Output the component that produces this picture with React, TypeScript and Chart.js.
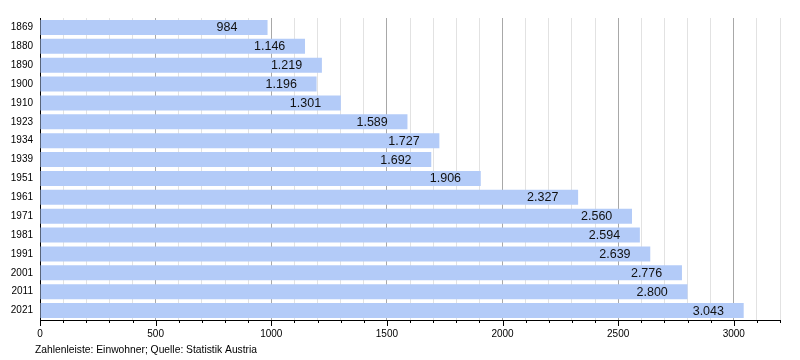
import React, { useEffect, useRef } from "react";
import { Chart, registerables } from "chart.js";

Chart.register(...registerables);

const years = ["1869", "1880", "1890", "1900", "1910", "1923", "1934", "1939", "1951", "1961", "1971", "1981", "1991", "2001", "2011", "2021"];
const population = [984, 1146, 1219, 1196, 1301, 1589, 1727, 1692, 1906, 2327, 2560, 2594, 2639, 2776, 2800, 3043];
const axisTickLabels = ["0", "500", "1000", "1500", "2000", "2500", "3000"];
const footerText = "Zahlenleiste: Einwohner; Quelle: Statistik Austria";

const FONT = "'Liberation Sans', Arial, Helvetica, sans-serif";

function fmt(v: number): string {
  if (v < 1000) return String(v);
  const th = Math.floor(v / 1000);
  const rest = String(v % 1000).padStart(3, "0");
  return th + "." + rest;
}

const overlayPlugin = {
  id: "overlay",
  afterDatasetsDraw(chart: any) {
    const ctx = chart.ctx;
    const meta = chart.getDatasetMeta(0);
    ctx.save();
    ctx.font = `12.5px ${FONT}`;
    ctx.fillStyle = "#111";
    ctx.textAlign = "left";
    ctx.textBaseline = "middle";
    meta.data.forEach((bar: any, i: number) => {
      ctx.fillText(fmt(population[i]), bar.x - 51, bar.y + 0.5);
    });
    // tick marks below x axis
    const xs = chart.scales.x;
    const y0 = chart.chartArea.bottom;
    ctx.strokeStyle = "#000";
    ctx.lineWidth = 1;
    for (let v = 0; v <= xs.max; v += 100) {
      const px = Math.round(xs.getPixelForValue(v)) + 0.5;
      const len = v % 500 === 0 ? 6 : 3;
      ctx.beginPath();
      ctx.moveTo(px, y0);
      ctx.lineTo(px, y0 + len);
      ctx.stroke();
    }
    // footer
    ctx.font = `10.3px ${FONT}`;
    ctx.fillStyle = "#000";
    ctx.textAlign = "left";
    ctx.textBaseline = "middle";
    ctx.fillText(footerText, 35, 350);
    ctx.restore();
  },
};

export default function App() {
  const ref = useRef<HTMLCanvasElement | null>(null);
  useEffect(() => {
    if (!ref.current) return;
    Chart.defaults.font.family = FONT;
    const chart = new Chart(ref.current, {
      type: "bar",
      data: {
        labels: years,
        datasets: [
          {
            data: population,
            backgroundColor: "#b3cbf8",
            borderWidth: 0,
            categoryPercentage: 0.8,
            barPercentage: 1,
          },
        ],
      },
      options: {
        indexAxis: "y",
        responsive: false,
        animation: false,
        layout: { padding: { top: 18, right: 20, bottom: 18, left: 0 } },
        plugins: { legend: { display: false }, tooltip: { enabled: false } },
        scales: {
          x: {
            type: "linear",
            min: 0,
            max: 3200,
            afterFit: (s: any) => {
              s.height = 22;
            },
            ticks: {
              stepSize: 100,
              autoSkip: false,
              maxRotation: 0,
              padding: 8,
              color: "#000",
              font: { size: 10 },
              callback: (v: any) => {
                const s = String(v);
                return axisTickLabels.includes(s) ? s : "";
              },
            },
            grid: {
              drawTicks: false,
              color: (c: any) => (c.tick && c.tick.value % 500 === 0 ? "#a8a8a8" : "#e2e2e2"),
              lineWidth: 1,
            },
            border: { display: true, color: "#000", width: 1 },
          },
          y: {
            afterFit: (s: any) => {
              s.width = 40;
            },
            ticks: { padding: 7, color: "#000", font: { size: 10 } },
            grid: { display: false, drawTicks: false },
            border: { display: true, color: "#000", width: 1 },
          },
        },
      },
      plugins: [overlayPlugin],
    } as any);
    return () => chart.destroy();
  }, []);
  return (
    <div style={{ position: "fixed", left: 0, top: 0, width: 800, height: 360, background: "#fff" }}>
      <canvas ref={ref} width={800} height={360} />
    </div>
  );
}
